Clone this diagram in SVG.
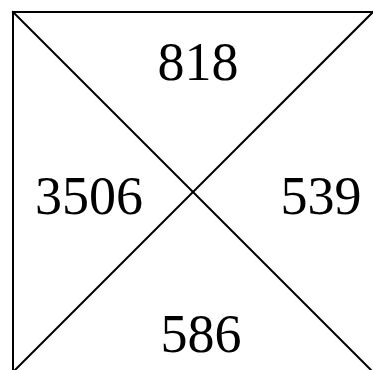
<svg xmlns="http://www.w3.org/2000/svg" width="373" height="370" viewBox="0 0 373 370">
<style>
.l{stroke:#000;stroke-width:2;fill:none;stroke-linecap:square}
.t{font-family:"Liberation Serif","Times New Roman",serif;font-size:54px;fill:#000;text-anchor:middle}
</style>
<rect width="373" height="370" fill="#fff"/>
<g id="connectors">
<path class="l" d="M13,12 H373"/>
<path class="l" d="M13,12 V370"/>
<path class="l" d="M13,12 L373,372"/>
<path class="l" d="M373,12 L14,371"/>
</g>
<g id="top"><text class="t" x="198" y="80">818</text></g>
<g id="left"><text class="t" x="89" y="214">3506</text></g>
<g id="right"><text class="t" x="321" y="214">539</text></g>
<g id="bottom"><text class="t" x="201" y="352">586</text></g>
</svg>
